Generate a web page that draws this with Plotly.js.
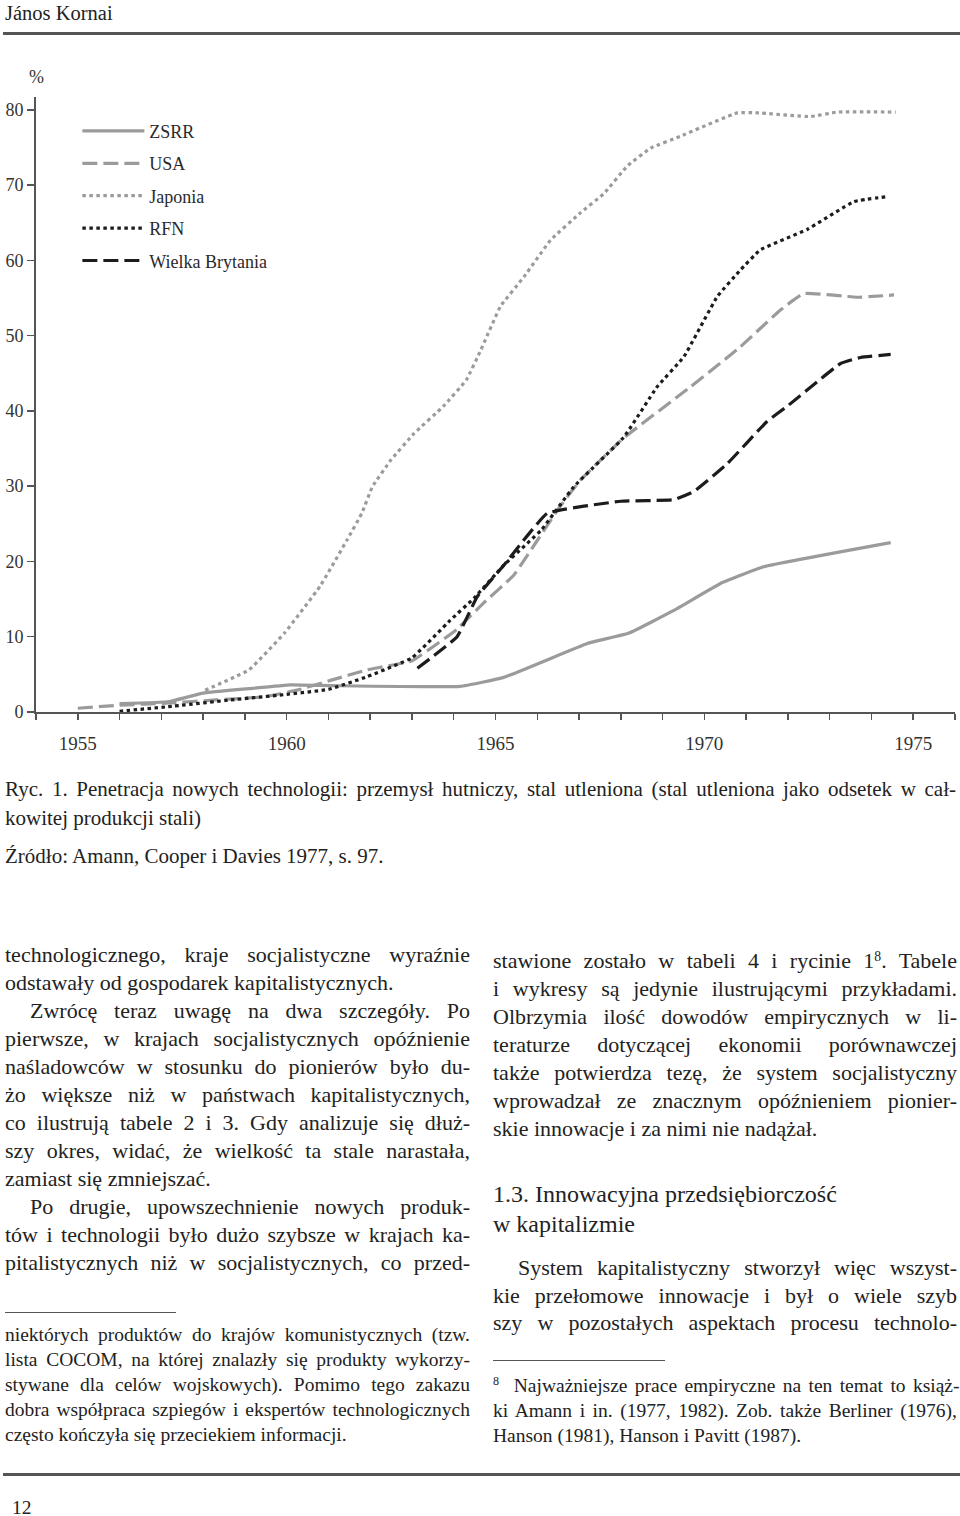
<!DOCTYPE html>
<html>
<head>
<meta charset="utf-8">
<script src="https://cdn.plot.ly/plotly-3.0.1.min.js"></script>
<style>
  html, body { margin:0; padding:0; background:#fff; }
  body { width:960px; height:1516px; position:relative; overflow:hidden;
         font-family:"Liberation Serif","DejaVu Serif",serif; color:#222; }
  #chart { position:absolute; left:0; top:0; width:960px; height:780px; }
  .ln { position:absolute; white-space:nowrap; font-family:"Liberation Serif","DejaVu Serif",serif; }
  .rule { position:absolute; background:#555; }
  .body { font-size:22px; line-height:28px; height:28px; }
  .head { font-size:24px; line-height:30px; height:30px; }
  .fn { font-size:19.5px; line-height:25px; height:25px; }
  .cap { font-size:21px; line-height:28px; height:28px; }
  sup { font-size:0.62em; vertical-align:0.55em; line-height:0; }
</style>
</head>
<body>
<div class="ln" style="left:5px;top:0px;font-size:20.5px;line-height:26px;">János Kornai</div>
<div class="rule" style="left:3px;top:32px;width:957px;height:3px;"></div>

<div id="chart"></div>

<div id="text"></div>

<script>
// ---------- chart data ----------
const ZSRR_x = [1956.0, 1957.2, 1958.0, 1959.1, 1960.1, 1961.1, 1964.15, 1965.2, 1967.2, 1968.2, 1969.27, 1970.43, 1971.42, 1974.46];
const ZSRR_y = [1.1, 1.4, 2.5, 3.1, 3.6, 3.5, 3.4, 4.6, 9.1, 10.5, 13.5, 17.2, 19.3, 22.5];

const USA_x = [1955.0, 1956.0, 1957.2, 1958.3, 1959.45, 1960.25, 1961.05, 1961.93, 1963.0, 1964.08, 1964.7, 1965.44, 1966.48, 1967.03, 1968.07, 1969.67, 1970.86, 1971.82, 1972.38, 1973.66, 1974.54];
const USA_y = [0.5, 0.9, 1.2, 1.6, 2.0, 2.9, 4.2, 5.6, 6.8, 11.0, 14.4, 18.2, 26.8, 30.8, 36.4, 43.2, 48.5, 53.4, 55.6, 55.1, 55.4];

const JAP_x = [1958.05, 1959.1, 1959.95, 1960.8, 1961.45, 1961.8, 1962.05, 1962.5, 1963.05, 1963.75, 1964.3, 1964.65, 1965.12, 1965.68, 1966.32, 1967.03, 1967.6, 1968.15, 1968.71, 1969.43, 1970.79, 1971.26, 1972.54, 1973.18, 1974.58];
const JAP_y = [2.9, 5.6, 10.5, 16.7, 22.9, 26.4, 29.9, 33.5, 37.0, 40.6, 44.1, 48.1, 53.9, 57.8, 62.7, 66.3, 68.9, 72.5, 74.9, 76.5, 79.6, 79.6, 79.1, 79.7, 79.7];

const RFN_x = [1956.0, 1957.15, 1958.66, 1959.93, 1961.0, 1961.93, 1963.0, 1963.92, 1964.48, 1965.2, 1966.1, 1966.87, 1968.07, 1968.87, 1969.51, 1970.31, 1970.86, 1971.34, 1972.46, 1973.58, 1974.42];
const RFN_y = [0.1, 0.7, 1.6, 2.3, 3.0, 4.7, 7.2, 12.2, 15.1, 19.5, 24.2, 29.9, 36.5, 43.2, 47.2, 55.2, 58.7, 61.4, 64.1, 67.8, 68.5];

const UK_x = [1963.13, 1964.08, 1964.56, 1965.2, 1966.24, 1968.0, 1969.27, 1969.75, 1970.55, 1971.5, 1971.98, 1973.26, 1973.74, 1974.46];
const UK_y = [5.8, 10.0, 15.3, 19.5, 26.4, 28.0, 28.2, 29.3, 33.0, 38.6, 40.6, 46.3, 47.1, 47.5];

const seriesNames = ["ZSRR", "USA", "Japonia", "RFN", "Wielka Brytania"];
const xTickVals = [1955, 1960, 1965, 1970, 1975];
const xTickText = ["1955", "1960", "1965", "1970", "1975"];
const yTickVals = [0, 10, 20, 30, 40, 50, 60, 70, 80];
const yTickText = ["0", "10", "20", "30", "40", "50", "60", "70", "80"];

// ---------- styling ----------
const FONT = 'Liberation Serif, DejaVu Serif, serif';
const GRAY = '#9b9b9b';
const BLACK = '#1c1c1c';
const W = 3.2;

function tr(name, x, y, color, dash, grp) {
  return { type:'scatter', mode:'lines', name:name, x:x, y:y, legendgroup:grp,
           line:{ color:color, width:W, dash:dash, shape:'spline', smoothing:0.3 },
           hoverinfo:'skip' };
}

const data = [
  tr(seriesNames[0], ZSRR_x, ZSRR_y, GRAY, 'solid', 'a'),
  tr(seriesNames[1], USA_x, USA_y, GRAY, '15px,6px', 'b'),
  tr(seriesNames[2], JAP_x, JAP_y, GRAY, '3.5px,3.5px', 'c'),
  tr(seriesNames[3], RFN_x, RFN_y, BLACK, '3.5px,3.5px', 'd'),
  tr(seriesNames[4], UK_x, UK_y, BLACK, '15px,6px', 'e')
];

const layout = {
  width:960, height:780,
  margin:{ l:36, r:5, t:97, b:68, pad:0 },
  paper_bgcolor:'rgba(0,0,0,0)', plot_bgcolor:'rgba(0,0,0,0)',
  font:{ family:FONT, size:17, color:'#333' },
  showlegend:true,
  legend:{ x:0.045, y:0.9745, xanchor:'left', yanchor:'top', bgcolor:'rgba(0,0,0,0)',
           font:{ family:FONT, size:18, color:'#2a2a2a' }, traceorder:'grouped',
           tracegroupgap:6, itemwidth:62 },
  xaxis:{ range:[1954, 1976], tickmode:'array', tickvals:xTickVals, ticktext:xTickText,
          ticks:'outside', ticklen:6, tickwidth:1.5, tickcolor:'#555',
          showline:true, linecolor:'#555', linewidth:2, showgrid:false, zeroline:false,
          ticklabelstandoff:7, tickfont:{ family:FONT, size:19, color:'#333' },
          minor:{ tick0:1954, dtick:1, ticks:'outside', ticklen:6, tickwidth:1.5, tickcolor:'#555', showgrid:false },
          fixedrange:true },
  yaxis:{ range:[0, 81.7], tickmode:'array', tickvals:yTickVals, ticktext:yTickText,
          ticks:'outside', ticklen:7, tickwidth:1.5, tickcolor:'#555',
          showline:true, linecolor:'#555', linewidth:2, showgrid:false, zeroline:false,
          tickfont:{ family:FONT, size:18, color:'#333' }, fixedrange:true },
  annotations:[
    { text:'%', xref:'paper', yref:'paper', x:0, y:1.033, xanchor:'center', yanchor:'middle',
      showarrow:false, font:{ family:FONT, size:18, color:'#333' } }
  ]
};

Plotly.newPlot('chart', data, layout, { staticPlot:true, displayModeBar:false });

// ---------- page text ----------
const captionLines = [
  "Ryc. 1. Penetracja nowych technologii: przemysł hutniczy, stal utleniona (stal utleniona jako odsetek w cał-",
  "kowitej produkcji stali)"
];
const sourceLine = "Źródło: Amann, Cooper i Davies 1977, s. 97.";

const leftCol = [
  ["technologicznego, kraje socjalistyczne wyraźnie", 1, 0],
  ["odstawały od gospodarek kapitalistycznych.", 0, 0],
  ["Zwrócę teraz uwagę na dwa szczegóły. Po", 1, 1],
  ["pierwsze, w krajach socjalistycznych opóźnienie", 1, 0],
  ["naśladowców w stosunku do pionierów było du-", 1, 0],
  ["żo większe niż w państwach kapitalistycznych,", 1, 0],
  ["co ilustrują tabele 2 i 3. Gdy analizuje się dłuż-", 1, 0],
  ["szy okres, widać, że wielkość ta stale narastała,", 1, 0],
  ["zamiast się zmniejszać.", 0, 0],
  ["Po drugie, upowszechnienie nowych produk-", 1, 1],
  ["tów i technologii było dużo szybsze w krajach ka-", 1, 0],
  ["pitalistycznych niż w socjalistycznych, co przed-", 1, 0]
];
const rightCol1 = [
  ["stawione zostało w tabeli 4 i rycinie 1<sup>8</sup>. Tabele", 1, 0],
  ["i wykresy są jedynie ilustrującymi przykładami.", 1, 0],
  ["Olbrzymia ilość dowodów empirycznych w li-", 1, 0],
  ["teraturze dotyczącej ekonomii porównawczej", 1, 0],
  ["także potwierdza tezę, że system socjalistyczny", 1, 0],
  ["wprowadzał ze znacznym opóźnieniem pionier-", 1, 0],
  ["skie innowacje i za nimi nie nadążał.", 0, 0]
];
const heading = ["1.3. Innowacyjna przedsiębiorczość", "w kapitalizmie"];
const rightCol2 = [
  ["System kapitalistyczny stworzył więc wszyst-", 1, 1],
  ["kie przełomowe innowacje i był o wiele szyb", 1, 0],
  ["szy w pozostałych aspektach procesu technolo-", 1, 0]
];
const footLeft = [
  ["niektórych produktów do krajów komunistycznych (tzw.", 1],
  ["lista COCOM, na której znalazły się produkty wykorzy-", 1],
  ["stywane dla celów wojskowych). Pomimo tego zakazu", 1],
  ["dobra współpraca szpiegów i ekspertów technologicznych", 1],
  ["często kończyła się przeciekiem informacji.", 0]
];
const footRight = [
  ["<sup>8</sup>&nbsp; Najważniejsze prace empiryczne na ten temat to książ-", 1],
  ["ki Amann i in. (1977, 1982). Zob. także Berliner (1976),", 1],
  ["Hanson (1981), Hanson i Pavitt (1987).", 0]
];

const host = document.getElementById('text');
function addLine(html, cls, left, width, centerY, lh, justify, indent) {
  const d = document.createElement('div');
  d.className = 'ln ' + cls;
  const ind = indent ? 25 : 0;
  d.style.left = (left + ind) + 'px';
  d.style.top = (centerY - lh / 2) + 'px';
  d.innerHTML = html;
  host.appendChild(d);
  const target = width - ind;
  const natural = d.getBoundingClientRect().width;
  if (justify) {
    const txt = d.textContent;
    const spaces = (txt.match(/ /g) || []).length;
    if (natural < target && spaces > 0) {
      d.style.wordSpacing = ((target - natural) / spaces) + 'px';
    } else if (natural > target) {
      d.style.letterSpacing = ((target - natural) / txt.length) + 'px';
    }
  } else if (natural > target) {
    d.style.letterSpacing = ((target - natural) / d.textContent.length) + 'px';
  }
}
function addRule(left, top, width, h) {
  const d = document.createElement('div');
  d.className = 'rule';
  d.style.left = left + 'px'; d.style.top = top + 'px';
  d.style.width = width + 'px'; d.style.height = h + 'px';
  host.appendChild(d);
}

addLine(captionLines[0], 'cap', 5, 951, 789, 28, true, false);
addLine(captionLines[1], 'cap', 5, 951, 818, 28, false, false);
addLine(sourceLine, 'cap', 5, 951, 856, 28, false, false);

leftCol.forEach((l, i) => addLine(l[0], 'body', 5, 465, 955 + 28 * i, 28, l[1], l[2]));
rightCol1.forEach((l, i) => addLine(l[0], 'body', 493, 464, 961 + 28 * i, 28, l[1], l[2]));
addLine(heading[0], 'head', 493, 464, 1194, 30, false, false);
addLine(heading[1], 'head', 493, 464, 1224, 30, false, false);
rightCol2.forEach((l, i) => addLine(l[0], 'body', 493, 464, 1268 + 27.5 * i, 28, l[1], l[2]));

addRule(5, 1312, 171, 1);
footLeft.forEach((l, i) => addLine(l[0], 'fn', 5, 465, 1334 + 25 * i, 25, l[1], false));
addRule(493, 1360, 172, 1);
footRight.forEach((l, i) => addLine(l[0], 'fn', 493, 464, 1385 + 25 * i, 25, l[1], false));

addRule(3, 1473, 957, 3);
addLine('12', 'fn', 12, 60, 1507, 25, false, false);
</script>
</body>
</html>
